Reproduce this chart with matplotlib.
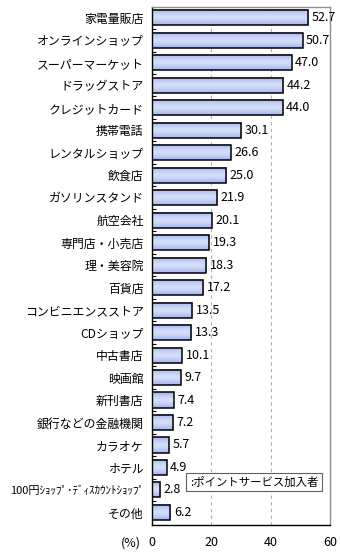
import matplotlib
matplotlib.use("Agg")
import matplotlib.pyplot as plt
import numpy as np
from matplotlib.patches import Rectangle
from matplotlib.colors import LinearSegmentedColormap

plt.rcParams['font.family'] = ['Noto Sans CJK JP', 'DejaVu Sans']

categories = ["家電量販店", "オンラインショップ", "スーパーマーケット", "ドラッグストア",
              "クレジットカード", "携帯電話", "レンタルショップ", "飲食店", "ガソリンスタンド",
              "航空会社", "専門店・小売店", "理・美容院", "百貨店", "コンビニエンスストア",
              "CDショップ", "中古書店", "映画館", "新刊書店", "銀行などの金融機関",
              "カラオケ", "ホテル", "100円ｼｮｯﾌﾟ･ﾃﾞｨｽｶｳﾝﾄｼｮｯﾌﾟ", "その他"]
values = [52.7, 50.7, 47.0, 44.2, 44.0, 30.1, 26.6, 25.0, 21.9, 20.1, 19.3, 18.3,
          17.2, 13.5, 13.3, 10.1, 9.7, 7.4, 7.2, 5.7, 4.9, 2.8, 6.2]
xticks = [0, 20, 40, 60]
legend_label = ":ポイントサービス加入者"

fig = plt.figure(figsize=(3.4, 5.55), dpi=100)
ax = fig.add_axes([0.447, 0.054, 0.524, 0.933])

y = np.arange(len(categories))
bar_h = 0.67
grad = np.array([0.0, 0.45, 0.8, 1.0, 0.8, 0.45, 0.0]).reshape(-1, 1)
cmap = LinearSegmentedColormap.from_list("g", ["#a9b9ef", "#d6e0fa"])

for yi, v in zip(y, values):
    ax.imshow(grad, cmap=cmap, aspect='auto', interpolation='bicubic',
              extent=[0, v, yi + bar_h / 2, yi - bar_h / 2], zorder=2)
    ax.add_patch(Rectangle((0, yi - bar_h / 2), v, bar_h, facecolor='none',
                           edgecolor='black', linewidth=1.1, zorder=3))
    ax.text(v + 1.2, yi, f"{v:.1f}", va='center', ha='left', fontsize=9, zorder=4)

ax.set_xlim(0, 60)
ax.set_ylim(22.56, -0.47)
ax.set_yticks(y)
labels = ax.set_yticklabels(categories, fontsize=8.6)
for lab in labels:
    if len(lab.get_text()) > 12:
        lab.set_fontsize(8.0)
ax.set_xticks(xticks)
ax.set_xticklabels([str(t) for t in xticks], fontsize=9)
ax.tick_params(axis='y', length=0, pad=6)
ax.tick_params(axis='x', length=0, pad=8)
ax.set_yticks(np.arange(len(categories) - 1) + 0.5, minor=True)
ax.tick_params(axis='y', which='minor', direction='in', length=3, width=0.8)

for t in [20, 40]:
    ax.axvline(t, color='#b0b0b0', linestyle=(0, (3, 3)), linewidth=0.8, zorder=1)

ax.spines['left'].set_color('black')
ax.spines['bottom'].set_color('black')
ax.spines['top'].set_color('#909090')
ax.spines['right'].set_color('#909090')
for s in ax.spines.values():
    s.set_linewidth(1.0)

fig.text(0.385, 0.0216, "(%)", ha='center', va='center', fontsize=9)

ax.text(0.573, 0.083, legend_label, transform=ax.transAxes, ha='center', va='center',
        fontsize=8.2, zorder=5,
        bbox=dict(boxstyle='square,pad=0.3', facecolor='white', edgecolor='#606060', linewidth=0.8))

fig.savefig("out.png", dpi=100)
